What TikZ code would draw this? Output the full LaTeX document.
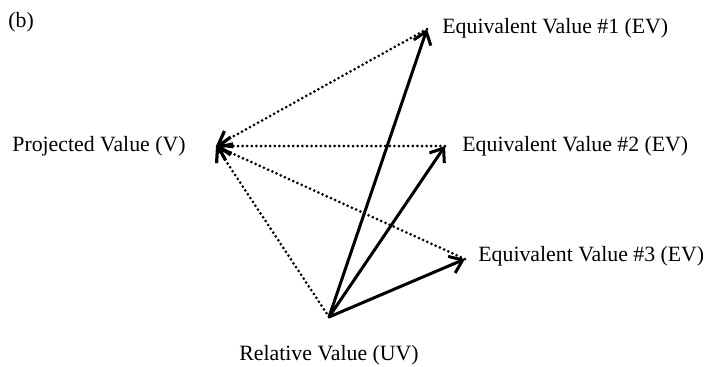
\documentclass[tikz,border=0pt]{standalone}
\usepackage{fontspec}
\setmainfont{Liberation Serif}
\usepackage{tikz}
\usetikzlibrary{arrows.meta, positioning}

\begin{document}
\begin{tikzpicture}[x=0.5pt, y=-0.5pt,
  label/.style={inner sep=0pt, font=\fontsize{10.9}{13}\selectfont},
  solidarrow/.style={line width=1.5pt, -{Straight Barb[length=6pt, width=9pt, line width=1.5pt]}},
  dotarrow/.style={line width=1.5pt, line cap=round, dash pattern=on 0pt off 2.3pt,
    -{Straight Barb[length=6pt, width=9pt, line width=1.6pt]}}
]
\useasboundingbox (0,0) rectangle (708,366);

% Points
\coordinate (v)   at (216,146);
\coordinate (ev1) at (427,29);
\coordinate (ev2) at (445,146);
\coordinate (ev3) at (465,259);
\coordinate (uv)  at (329,317);

% Labels
\node[label, anchor=west] (tag)   at (8,22)    {(b)};
\node[label, anchor=west] (vlab)  at (12,146)  {Projected Value (V)};
\node[label, anchor=west] (ev1lab) at (442,28) {Equivalent Value \#1 (EV)};
\node[label, anchor=west] (ev2lab) at (462,146) {Equivalent Value \#2 (EV)};
\node[label, anchor=west] (ev3lab) at (478,256) {Equivalent Value \#3 (EV)};
\node[label] (uvlab) at (329,355) {Relative Value (UV)};

% Relative value to equivalents
\draw[solidarrow] (uv) -- (ev1);
\draw[solidarrow] (uv) -- (ev2);
\draw[solidarrow] (uv) -- (ev3);

% Everything back to projected value
\draw[dotarrow] (ev1) -- (v);
\draw[dotarrow] (ev2) -- (v);
\draw[dotarrow] (ev3) -- (v);
\draw[dotarrow] (uv) -- (v);
\end{tikzpicture}
\end{document}
